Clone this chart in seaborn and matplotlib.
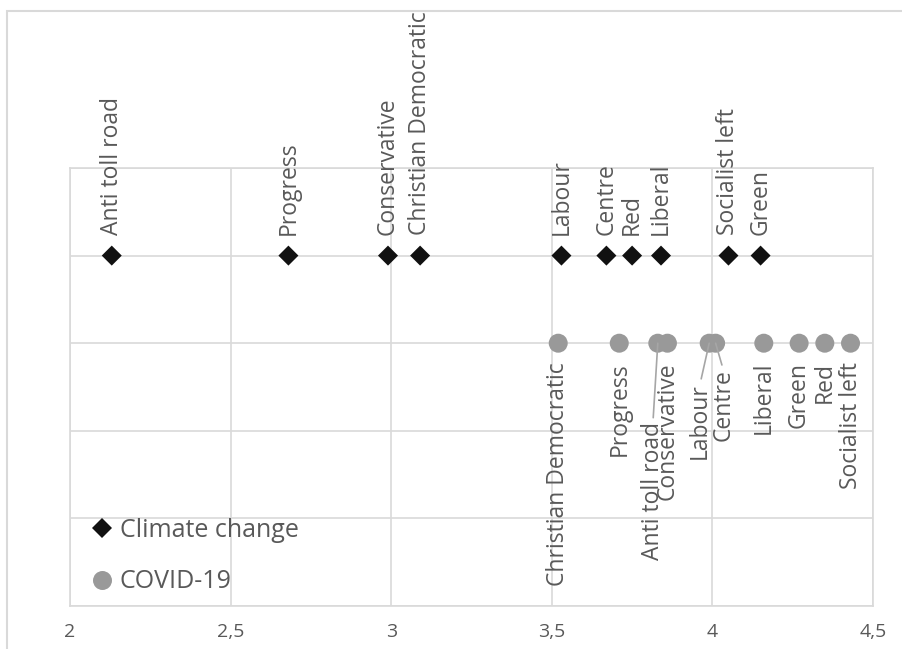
import pandas as pd
import matplotlib
matplotlib.use("Agg")
from matplotlib import pyplot as plt
from matplotlib.patches import Rectangle
import seaborn as sns

# party positions on each issue
parties = ['Anti toll road', 'Progress', 'Conservative', 'Christian Democratic', 'Labour',
           'Centre', 'Red', 'Liberal', 'Socialist left', 'Green']
climate = [2.13, 2.68, 2.99, 3.09, 3.53, 3.67, 3.75, 3.84, 4.05, 4.15]
covid = [3.83, 3.71, 3.86, 3.52, 3.99, 4.01, 4.35, 4.16, 4.43, 4.27]
issues = ['Climate change', 'COVID-19']
rows = {'Climate change': 4, 'COVID-19': 3}
xticks = [2, 2.5, 3, 3.5, 4, 4.5]
xtick_labels = ['2', '2,5', '3', '3,5', '4', '4,5']

df = pd.concat([
    pd.DataFrame({'party': parties, 'score': climate, 'issue': issues[0]}),
    pd.DataFrame({'party': parties, 'score': covid, 'issue': issues[1]}),
])
df['row'] = df['issue'].map(rows)

GREY_TEXT = '#595959'
GRID = '#d9d9d9'

sns.set_style('white')
plt.rcParams['font.family'] = ['Open Sans', 'DejaVu Sans']

fig = plt.figure(figsize=(9.02, 6.49), dpi=100)
ax = fig.add_axes([70 / 902, 1 - 606 / 649, 803 / 902, 438 / 649])

sns.scatterplot(data=df, x='score', y='row', hue='issue', style='issue', size='issue',
                palette={'Climate change': '#111111', 'COVID-19': '#999999'},
                markers={'Climate change': 'D', 'COVID-19': 'o'},
                sizes={'Climate change': 104, 'COVID-19': 187},
                linewidth=0, ax=ax, zorder=3)

ax.set_xlim(2, 4.5)
ax.set_ylim(0, 5)
ax.set_xticks(xticks)
ax.set_xticklabels(xtick_labels)
ax.set_yticks([0, 1, 2, 3, 4, 5])
ax.set_yticklabels([])
ax.tick_params(axis='both', length=0, colors=GREY_TEXT, labelsize=14, pad=12)
ax.grid(True, color=GRID, linewidth=1.2)
ax.set_axisbelow(True)
for s in ax.spines.values():
    s.set_color(GRID)
    s.set_linewidth(1.2)
ax.set_xlabel('')
ax.set_ylabel('')

# labels above the climate points
for p, v in zip(parties, climate):
    ax.annotate(p, (v, rows['Climate change']), xytext=(0, 15), textcoords='offset points',
                rotation=90, ha='center', va='bottom', fontsize=16.5, color=GREY_TEXT)

# labels below the covid points, some moved off with a leader line
moved = {'Anti toll road': (-3.5, -57), 'Labour': (-6.5, -29), 'Centre': (5.5, -19)}
for p, v in zip(parties, covid):
    dx, dy = moved.get(p, (0, -13.5))
    arrow = None
    if p in moved:
        arrow = dict(arrowstyle='-', color='#a6a6a6', lw=1.2, relpos=(0.5, 1.0),
                     shrinkA=1, shrinkB=0)
    ax.annotate(p, (v, rows['COVID-19']), xytext=(dx, dy), textcoords='offset points',
                rotation=90, ha='center', va='top', fontsize=16.5, color=GREY_TEXT,
                arrowprops=arrow)

leg = ax.legend(loc='lower left', bbox_to_anchor=(0.009, -0.005), frameon=False,
                fontsize=18, labelspacing=1.05, handlelength=0.9, handletextpad=0.25,
                borderpad=0.35, borderaxespad=0.2)
for t in leg.get_texts():
    t.set_color(GREY_TEXT)

# outer chart border (cut off on right and bottom)
fig.add_artist(Rectangle((7 / 902, -0.1), 1.2, 1.1 - 11 / 649, transform=fig.transFigure,
                         fill=False, edgecolor=GRID, linewidth=1.5, clip_on=False))

fig.savefig('out.png', dpi=100)
